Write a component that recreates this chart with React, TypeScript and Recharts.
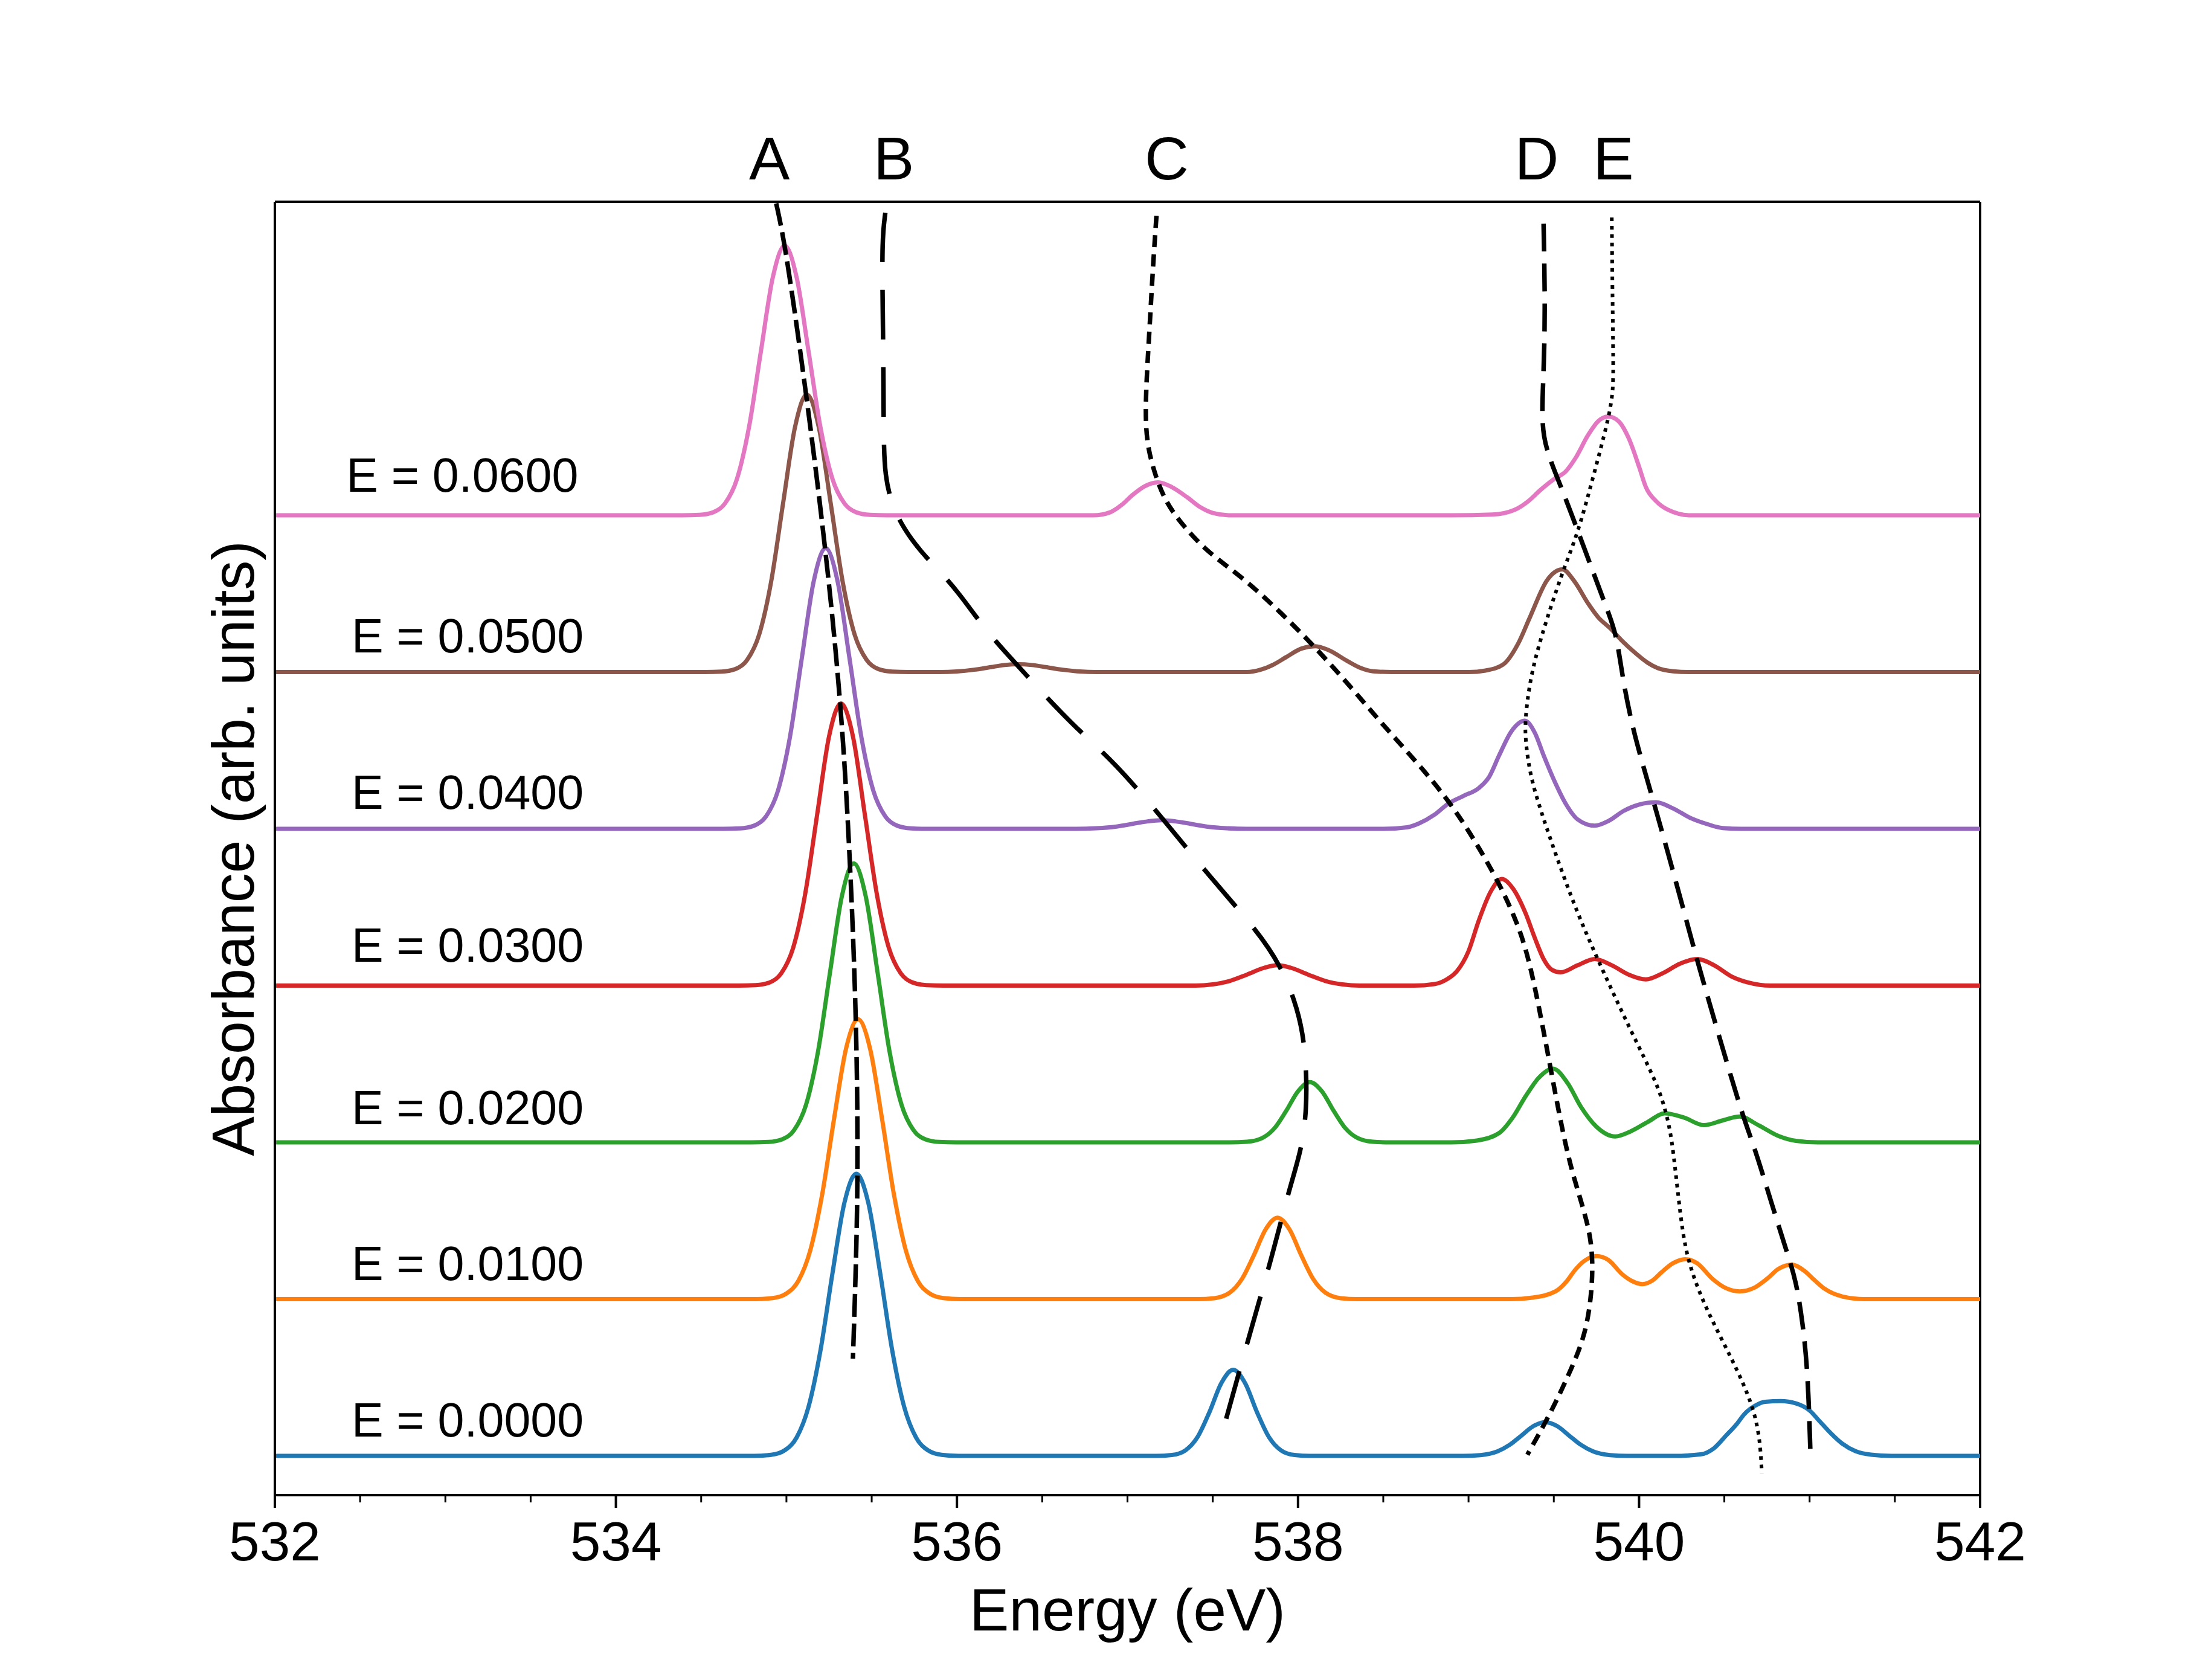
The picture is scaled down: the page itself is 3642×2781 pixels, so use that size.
import React from "react";
import {
  LineChart,
  Line,
  XAxis,
  YAxis,
  ReferenceLine,
  ReferenceDot,
} from "recharts";

type Pt = [number, number];

const FONT = "'Liberation Sans', Arial, sans-serif";

// concentration labels, bottom to top
const fields = ["0.0000", "0.0100", "0.0200", "0.0300", "0.0400", "0.0500", "0.0600"];
const colors = ["#1f77b4", "#ff7f0e", "#2ca02c", "#d62728", "#9467bd", "#8c564b", "#e377c2"];

// absorbance (relative to each curve's own baseline)
const absE0000: Pt[] = [
  [532, 0], [534.81, 0], [534.91, 0.007], [534.99, 0.036], [535.06, 0.118], [535.13, 0.315],
  [535.2, 0.675], [535.27, 1.165], [535.34, 1.615], [535.41, 1.8], [535.48, 1.615], [535.55, 1.165],
  [535.62, 0.675], [535.69, 0.315], [535.76, 0.118], [535.83, 0.036], [535.91, 0.007], [536.01, 0],
  [537.17, 0], [537.26, 0.006], [537.34, 0.036], [537.41, 0.119], [537.48, 0.278], [537.55, 0.464],
  [537.62, 0.55], [537.69, 0.464], [537.76, 0.278], [537.83, 0.119], [537.9, 0.036], [537.98, 0.006],
  [538.07, 0], [538.97, 0], [539.07, 0.005], [539.17, 0.029], [539.24, 0.07], [539.31, 0.13],
  [539.38, 0.19], [539.45, 0.215], [539.52, 0.19], [539.59, 0.13], [539.66, 0.07], [539.73, 0.029],
  [539.83, 0.005], [539.93, 0], [540.2, 0], [540.36, 0.01], [540.44, 0.05], [540.51, 0.13],
  [540.57, 0.2], [540.62, 0.27], [540.68, 0.32], [540.74, 0.345], [540.83, 0.35], [540.92, 0.335],
  [541.0, 0.29], [541.06, 0.22], [541.12, 0.15], [541.19, 0.08], [541.27, 0.03], [541.36, 0.008],
  [541.48, 0], [542, 0],
];

const absE0100: Pt[] = [
  [532, 0], [534.82, 0], [534.92, 0.007], [535.0, 0.036], [535.07, 0.117], [535.14, 0.312],
  [535.21, 0.67], [535.28, 1.155], [535.35, 1.6], [535.42, 1.785], [535.49, 1.6], [535.56, 1.155],
  [535.63, 0.67], [535.7, 0.312], [535.77, 0.117], [535.84, 0.036], [535.92, 0.007], [536.02, 0],
  [537.41, 0], [537.51, 0.0065], [537.6, 0.042], [537.67, 0.127], [537.74, 0.278], [537.81, 0.445],
  [537.88, 0.52], [537.95, 0.445], [538.02, 0.278], [538.09, 0.127], [538.16, 0.042], [538.25, 0.0065],
  [538.35, 0], [539.25, 0], [539.375, 0.01], [539.51, 0.05], [539.58, 0.12], [539.62, 0.18],
  [539.68, 0.245], [539.75, 0.275], [539.82, 0.25], [539.9, 0.16], [539.96, 0.115], [540.02, 0.096],
  [540.08, 0.12], [540.13, 0.17], [540.2, 0.23], [540.27, 0.255], [540.34, 0.23], [540.43, 0.13],
  [540.51, 0.07], [540.59, 0.05], [540.67, 0.07], [540.75, 0.13], [540.82, 0.195], [540.895, 0.22],
  [540.97, 0.18], [541.03, 0.12], [541.09, 0.065], [541.2, 0.015], [541.32, 0], [542, 0],
];

const absE0200: Pt[] = [
  [532, 0], [534.795, 0], [534.895, 0.003], [534.975, 0.02], [535.045, 0.078], [535.115, 0.24],
  [535.185, 0.578], [535.255, 1.08], [535.325, 1.57], [535.395, 1.78], [535.465, 1.57], [535.535, 1.08],
  [535.605, 0.578], [535.675, 0.24], [535.745, 0.078], [535.815, 0.02], [535.895, 0.003], [535.995, 0],
  [537.6, 0], [537.7, 0.004], [537.79, 0.028], [537.86, 0.088], [537.93, 0.2], [538.0, 0.326],
  [538.07, 0.385], [538.14, 0.326], [538.21, 0.2], [538.28, 0.088], [538.35, 0.028], [538.44, 0.004],
  [538.54, 0], [538.9, 0], [539.05, 0.012], [539.18, 0.06], [539.26, 0.16], [539.335, 0.295],
  [539.41, 0.41], [539.495, 0.47], [539.58, 0.38], [539.66, 0.225], [539.75, 0.1], [539.86, 0.038],
  [539.95, 0.07], [540.05, 0.13], [540.15, 0.185], [540.26, 0.16], [540.38, 0.11], [540.49, 0.14],
  [540.59, 0.165], [540.7, 0.11], [540.82, 0.04], [540.92, 0.01], [541.05, 0], [542, 0],
];

const absE0300: Pt[] = [
  [532, 0], [534.72, 0], [534.82, 0.003], [534.9, 0.02], [534.97, 0.079], [535.04, 0.243],
  [535.11, 0.585], [535.18, 1.09], [535.25, 1.59], [535.32, 1.8], [535.39, 1.59], [535.46, 1.09],
  [535.53, 0.585], [535.6, 0.243], [535.67, 0.079], [535.74, 0.02], [535.82, 0.003], [535.92, 0],
  [537.4, 0], [537.5, 0.008], [537.6, 0.03], [537.7, 0.07], [537.8, 0.113], [537.88, 0.13],
  [537.96, 0.113], [538.06, 0.07], [538.16, 0.03], [538.26, 0.008], [538.36, 0], [538.68, 0],
  [538.8, 0.01], [538.88, 0.045], [538.93, 0.09], [539.0, 0.22], [539.06, 0.415], [539.13, 0.6],
  [539.195, 0.68], [539.26, 0.62], [539.335, 0.46], [539.39, 0.3], [539.44, 0.17], [539.49, 0.1],
  [539.54, 0.085], [539.64, 0.13], [539.74, 0.17], [539.84, 0.13], [539.94, 0.07], [540.04, 0.04],
  [540.14, 0.08], [540.24, 0.14], [540.34, 0.17], [540.44, 0.13], [540.54, 0.06], [540.64, 0.02],
  [540.77, 0], [542, 0],
];

const absE0400: Pt[] = [
  [532, 0], [534.63, 0], [534.73, 0.003], [534.81, 0.02], [534.88, 0.079], [534.95, 0.242],
  [535.02, 0.582], [535.09, 1.087], [535.16, 1.579], [535.23, 1.79], [535.3, 1.579], [535.37, 1.087],
  [535.44, 0.582], [535.51, 0.242], [535.58, 0.079], [535.65, 0.02], [535.73, 0.003], [535.83, 0],
  [536.7, 0], [536.82, 0.004], [536.93, 0.014], [537.03, 0.032], [537.12, 0.048], [537.2, 0.055],
  [537.28, 0.048], [537.37, 0.032], [537.47, 0.014], [537.58, 0.004], [537.7, 0], [538.5, 0],
  [538.64, 0.01], [538.71, 0.035], [538.8, 0.09], [538.88, 0.16], [538.97, 0.21], [539.06, 0.26],
  [539.12, 0.33], [539.18, 0.47], [539.25, 0.62], [539.33, 0.69], [539.39, 0.61], [539.44, 0.47],
  [539.51, 0.29], [539.57, 0.16], [539.64, 0.06], [539.74, 0.02], [539.82, 0.05], [539.91, 0.115],
  [540.0, 0.155], [540.1, 0.17], [540.2, 0.13], [540.3, 0.07], [540.4, 0.03], [540.49, 0.005],
  [540.6, 0], [542, 0],
];

const absE0500: Pt[] = [
  [532, 0], [534.52, 0], [534.62, 0.003], [534.7, 0.019], [534.77, 0.078], [534.84, 0.239],
  [534.91, 0.575], [534.98, 1.074], [535.05, 1.561], [535.12, 1.77], [535.19, 1.561], [535.26, 1.074],
  [535.33, 0.575], [535.4, 0.239], [535.47, 0.078], [535.54, 0.019], [535.62, 0.003], [535.72, 0],
  [535.9, 0], [536.0, 0.004], [536.1, 0.015], [536.2, 0.032], [536.28, 0.045], [536.36, 0.05],
  [536.44, 0.045], [536.52, 0.032], [536.62, 0.015], [536.72, 0.004], [536.82, 0], [537.7, 0],
  [537.78, 0.015], [537.86, 0.05], [537.93, 0.095], [538.02, 0.15], [538.1, 0.165], [538.18, 0.14],
  [538.29, 0.07], [538.37, 0.025], [538.44, 0.005], [538.55, 0], [539.0, 0], [539.1, 0.01],
  [539.205, 0.05], [539.29, 0.18], [539.36, 0.35], [539.46, 0.585], [539.55, 0.655], [539.62, 0.58],
  [539.7, 0.44], [539.76, 0.35], [539.83, 0.28], [539.9, 0.2], [539.98, 0.12], [540.05, 0.06],
  [540.11, 0.025], [540.2, 0.005], [540.3, 0], [542, 0],
];

const absE0600: Pt[] = [
  [532, 0], [534.39, 0], [534.49, 0.003], [534.57, 0.019], [534.64, 0.076], [534.71, 0.232],
  [534.78, 0.559], [534.85, 1.044], [534.92, 1.517], [534.99, 1.72], [535.06, 1.517], [535.13, 1.044],
  [535.2, 0.559], [535.27, 0.232], [535.34, 0.076], [535.41, 0.019], [535.49, 0.003], [535.59, 0],
  [536.8, 0], [536.9, 0.02], [536.97, 0.07], [537.03, 0.13], [537.1, 0.185], [537.18, 0.21],
  [537.26, 0.18], [537.35, 0.115], [537.43, 0.05], [537.5, 0.015], [537.6, 0], [538.9, 0],
  [539.14, 0.005], [539.27, 0.035], [539.35, 0.09], [539.42, 0.16], [539.5, 0.23], [539.57, 0.28],
  [539.63, 0.37], [539.7, 0.51], [539.76, 0.6], [539.82, 0.63], [539.88, 0.6], [539.94, 0.49],
  [540.0, 0.31], [540.04, 0.18], [540.1, 0.09], [540.17, 0.035], [540.3, 0], [542, 0],
];

const spectra = [absE0000, absE0100, absE0200, absE0300, absE0400, absE0500, absE0600];

// peak-tracking guide lines (energy, stacked y)
const guideA: Pt[] = [
  [534.94, 7.99], [534.996, 7.71], [535.12, 6.75], [535.23, 5.79], [535.32, 4.81],
  [535.37, 3.89], [535.41, 2.82], [535.42, 1.9], [535.41, 1.28], [535.39, 0.62],
];
const guideB: Pt[] = [
  [535.58, 7.93], [535.56, 7.76], [535.565, 7.3], [535.57, 6.8], [535.57, 6.45], [535.58, 6.25],
  [535.61, 6.1], [535.66, 5.97], [535.73, 5.85], [535.82, 5.73], [535.92, 5.62], [536.02, 5.49],
  [536.1, 5.37], [536.2, 5.23], [536.29, 5.12], [536.49, 4.88], [536.7, 4.64], [536.92, 4.43],
  [537.22, 4.05], [537.47, 3.71], [537.77, 3.34], [537.9, 3.12], [537.98, 2.91], [538.03, 2.7],
  [538.05, 2.45], [538.05, 2.2], [538.02, 1.95], [537.95, 1.71], [537.85, 1.28], [537.72, 0.79],
  [537.61, 0.36], [537.54, 0.085],
];
const guideC: Pt[] = [
  [537.17, 7.91], [537.15, 7.6], [537.13, 7.2], [537.11, 6.84], [537.105, 6.6], [537.12, 6.42],
  [537.17, 6.23], [537.22, 6.1], [537.29, 5.98], [537.46, 5.77], [537.67, 5.61], [537.89, 5.39],
  [538.1, 5.16], [538.31, 4.905], [538.5, 4.66], [538.71, 4.41], [538.93, 4.12], [539.16, 3.7],
  [539.28, 3.42], [539.36, 3.16], [539.46, 2.6], [539.57, 1.95], [539.65, 1.66], [539.71, 1.44],
  [539.73, 1.245], [539.72, 1.005], [539.68, 0.75], [539.58, 0.5], [539.48, 0.27], [539.345, 0.008],
];
const guideD: Pt[] = [
  [539.44, 7.86], [539.45, 7.3], [539.44, 6.9], [539.43, 6.65], [539.44, 6.5], [539.47, 6.38],
  [539.52, 6.24], [539.59, 6.05], [539.74, 5.61], [539.82, 5.38], [539.87, 5.23], [539.91, 4.91],
  [539.98, 4.56], [540.09, 4.16], [540.26, 3.49], [540.34, 3.16], [540.49, 2.6], [540.61, 2.16],
  [540.68, 1.96], [540.78, 1.6], [540.87, 1.29], [540.92, 1.12], [540.96, 0.85], [540.99, 0.53],
  [541.005, 0.015],
];
const guideE: Pt[] = [
  [539.84, 7.9], [539.845, 7.3], [539.85, 6.9], [539.845, 6.77], [539.82, 6.61], [539.73, 6.24],
  [539.64, 5.88], [539.55, 5.64], [539.42, 5.21], [539.36, 4.95], [539.33, 4.69], [539.335, 4.55],
  [539.36, 4.35], [539.42, 4.12], [539.61, 3.53], [539.76, 3.16], [539.96, 2.69], [540.11, 2.37],
  [540.17, 2.15], [540.2, 1.96], [540.24, 1.55], [540.28, 1.25], [540.39, 0.94], [540.55, 0.61],
  [540.67, 0.32], [540.71, 0.1], [540.72, -0.11],
];

const energyTicks = [
  532, 532.5, 533, 533.5, 534, 534.5, 535, 535.5, 536, 536.5, 537,
  537.5, 538, 538.5, 539, 539.5, 540, 540.5, 541, 541.5, 542,
];
const peakLetters = ["A", "B", "C", "D", "E"];
const peakLetterEnergies = [534.9, 535.63, 537.23, 539.4, 539.85];

// where each "E = ..." text sits (energy, height above its baseline)
const fieldLabelAnchors: Pt[] = [
  [532.446, 0.23], [532.446, 0.23], [532.446, 0.225], [532.446, 0.26],
  [532.446, 0.235], [532.446, 0.235], [532.415, 0.26],
];

const toRows = (pts: Pt[], offset = 0) => pts.map(([x, y]) => ({ x, y: y + offset }));

function EnergyTick(props: any) {
  const { x, y, payload } = props;
  const v = payload.value;
  const major = Math.abs(v % 2) < 1e-6;
  return (
    <g>
      <line x1={x} x2={x} y1={y} y2={y + (major ? 21 : 12)} stroke="#000" strokeWidth={major ? 4 : 3} />
      {major && (
        <text x={x} y={y + 108} textAnchor="middle" fontSize={91} fontFamily={FONT} fill="#000">
          {v}
        </text>
      )}
    </g>
  );
}

function EnergyTitle(props: any) {
  const vb = props.viewBox ?? { x: 455, y: 2475, width: 2823, height: 1 };
  return (
    <text x={vb.x + vb.width / 2} y={vb.y + 224} textAnchor="middle" fontSize={98} fontFamily={FONT} fill="#000">
      Energy (eV)
    </text>
  );
}

function AbsorbanceTitle(props: any) {
  const vb = props.viewBox ?? { x: 454, y: 334, width: 1, height: 2141 };
  const cx = vb.x + vb.width - 35;
  const cy = vb.y + vb.height / 2;
  return (
    <text x={cx} y={cy} transform={`rotate(-90 ${cx} ${cy})`} textAnchor="middle" fontSize={98} fontFamily={FONT} fill="#000">
      Absorbance (arb. units)
    </text>
  );
}

const guides = [
  { pts: guideA, dash: "38 11", width: 7.5 },
  { pts: guideB, dash: "82 46", width: 7.5 },
  { pts: guideC, dash: "20 12", width: 7.5 },
  { pts: guideD, dash: "46 20", width: 7.5 },
  { pts: guideE, dash: "6 8", width: 6 },
];

export default function App() {
  return (
    <div style={{ position: "absolute", left: 0, top: 0, width: 3642, height: 2781, background: "#fff" }}>
      <LineChart width={3642} height={2781} margin={{ top: 333, right: 364, bottom: 305, left: 454 }}>
        <XAxis
          dataKey="x"
          type="number"
          domain={[532, 542]}
          allowDataOverflow
          ticks={energyTicks}
          interval={0}
          height={1}
          tickSize={0}
          tickMargin={0}
          tickLine={false}
          tick={(p: any) => <EnergyTick {...p} />}
          axisLine={{ stroke: "#000", strokeWidth: 4 }}
          label={<EnergyTitle />}
        />
        <XAxis
          xAxisId="top"
          orientation="top"
          dataKey="x"
          type="number"
          domain={[532, 542]}
          allowDataOverflow
          ticks={peakLetterEnergies}
          interval={0}
          height={1}
          tickSize={0}
          tickMargin={37}
          tickLine={false}
          tickFormatter={(v: number) => peakLetters[peakLetterEnergies.indexOf(v)] ?? ""}
          tick={{ fontSize: 101, fill: "#000", fontFamily: FONT }}
          axisLine={{ stroke: "#000", strokeWidth: 4 }}
        />
        <YAxis
          type="number"
          domain={[-0.25, 8]}
          allowDataOverflow
          width={1}
          tick={false}
          tickLine={false}
          axisLine={{ stroke: "#000", strokeWidth: 4 }}
          label={<AbsorbanceTitle />}
        />
        <ReferenceLine x={542} stroke="#000" strokeWidth={4} />

        {spectra.map((pts, i) => (
          <Line
            key={fields[i]}
            data={toRows(pts, i)}
            dataKey="y"
            type="monotone"
            stroke={colors[i]}
            strokeWidth={7}
            dot={false}
            activeDot={false}
            isAnimationActive={false}
          />
        ))}

        {guides.map((g, i) => (
          <Line
            key={"guide" + i}
            data={toRows(g.pts)}
            dataKey="y"
            type="basis"
            stroke="#000"
            strokeWidth={g.width}
            strokeDasharray={g.dash}
            dot={false}
            activeDot={false}
            isAnimationActive={false}
          />
        ))}

        {fields.map((f, i) => (
          <ReferenceDot
            key={"lbl" + f}
            x={fieldLabelAnchors[i][0]}
            y={i + fieldLabelAnchors[i][1]}
            r={1}
            fill="none"
            stroke="none"
            label={{ value: `E = ${f}`, position: "right", offset: 0, fontSize: 79, fill: "#000", fontFamily: FONT }}
          />
        ))}
      </LineChart>
    </div>
  );
}
